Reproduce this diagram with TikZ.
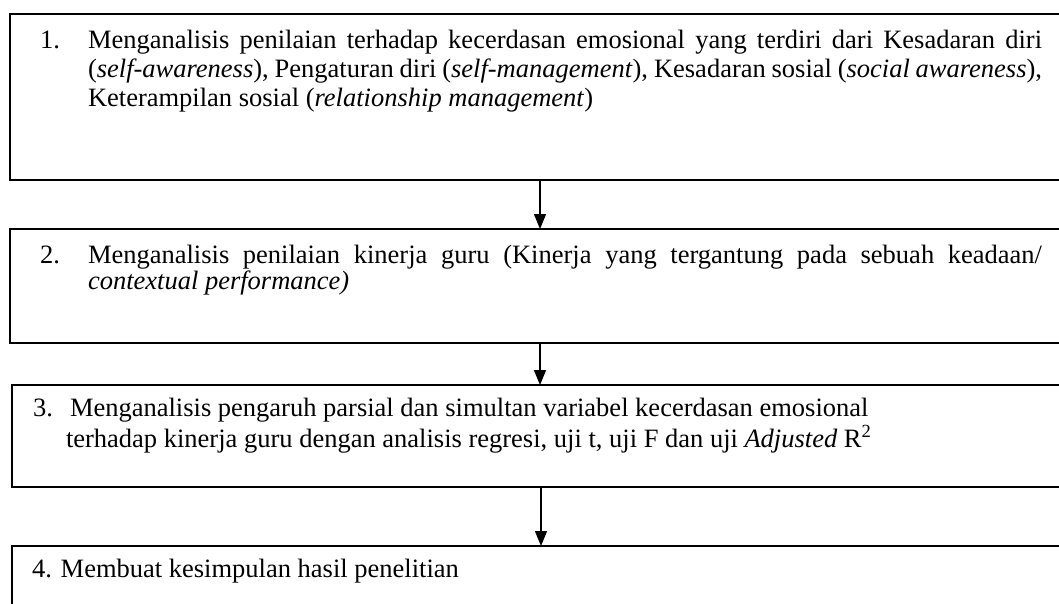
\documentclass[tikz,border=0pt]{standalone}
\usepackage{fontspec}
\setmainfont{Liberation Serif}
\usetikzlibrary{arrows.meta}
\begin{document}
\begin{tikzpicture}[x=1pt,y=-1pt,
  box/.style={draw,line width=1.6pt,inner sep=0pt,outer sep=0pt},
  txt/.style={inner sep=0pt,outer sep=0pt,anchor=base west,font=\fontsize{26.5}{30}\selectfont},
  arr/.style={line width=1.5pt,-{Triangle[width=12pt,length=15pt]}}]
\useasboundingbox (0,0) rectangle (1059,603);
\clip (0,0) rectangle (1059,603);
% boxes
\node[box,minimum width=1060pt,minimum height=166pt] (b1) at (540,97) {};
\node[box,minimum width=1060pt,minimum height=114pt] (b2) at (540,286) {};
\node[box,minimum width=1058pt,minimum height=102pt] (b3) at (541,436) {};
\node[box,minimum width=1058pt,minimum height=74pt] (b4) at (541,583) {};
% box 1 text
\node[txt] (n1) at (40,48) {1.};
\node[txt] (t1a) at (88,48) {\makebox[954pt][s]{Menganalisis penilaian terhadap kecerdasan emosional yang terdiri dari Kesadaran diri}};
\node[txt] (t1b) at (88,77) {\makebox[954pt][s]{(\textit{self-awareness}), Pengaturan diri (\textit{self-management}), Kesadaran sosial (\textit{social awareness}),}};
\node[txt] (t1c) at (88,106) {Keterampilan sosial (\textit{relationship management})};
% box 2 text
\node[txt] (n2) at (40,263) {2.};
\node[txt] (t2a) at (88,263) {\makebox[954pt][s]{Menganalisis penilaian kinerja guru (Kinerja yang tergantung pada sebuah keadaan/}};
\node[txt] (t2b) at (88,289) {\textit{contextual performance)}};
% box 3 text
\node[txt] (n3) at (33,416) {3.};
\node[txt] (t3a) at (70,416) {Menganalisis pengaruh parsial dan simultan variabel kecerdasan emosional};
\node[txt] (t3b) at (66,447) {terhadap kinerja guru dengan analisis regresi, uji t, uji F dan uji \textit{Adjusted} R\textsuperscript{2}};
% box 4 text
\node[txt] (t4) at (32,577) {4. Membuat kesimpulan hasil penelitian};
% arrows
\draw[arr] (b1.south) -- (b2.north);
\draw[arr] (b2.south) -- (b2.south |- b3.north);
\draw[arr] (b3.south) -- (b4.north);
\end{tikzpicture}
\end{document}
